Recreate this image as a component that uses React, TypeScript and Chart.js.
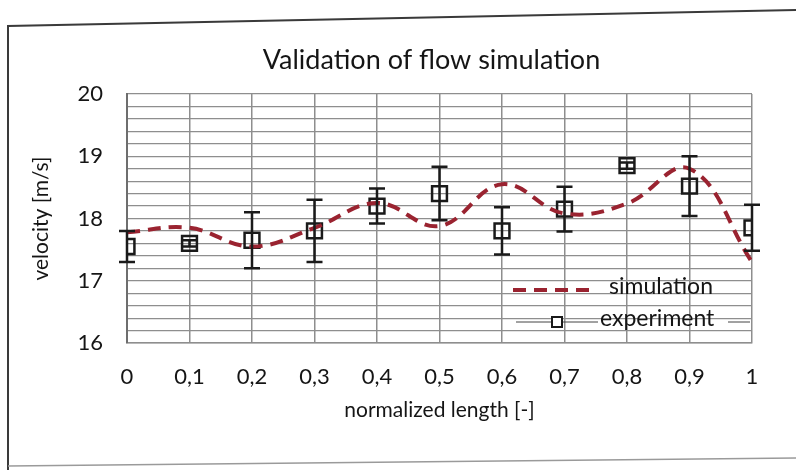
import { useEffect, useRef } from "react";
import { Chart, registerables } from "chart.js";

Chart.register(...registerables);

const chartTitle = "Validation of flow simulation";
const xTitle = "normalized length [-]";
const yTitle = "velocity [m/s]";
const positions = [0, 0.1, 0.2, 0.3, 0.4, 0.5, 0.6, 0.7, 0.8, 0.9, 1];
const simulation = [17.78, 17.85, 17.55, 17.85, 18.25, 17.88, 18.55, 18.08, 18.24, 18.8, 17.3];
const experiment = [17.55, 17.6, 17.65, 17.8, 18.2, 18.4, 17.8, 18.15, 18.85, 18.52, 17.85];
const experimentError = [0.25, 0.05, 0.45, 0.5, 0.28, 0.43, 0.38, 0.36, 0.05, 0.48, 0.37];
const yMin = 16;
const yMax = 20;

const FONT = "Lato, 'Open Sans', sans-serif";
const TEXT = "#151515";
const GRID = "#8e8e8e";
const SIM_COLOR = "#9a2330";

const framePlugin = {
  id: "frame",
  beforeDraw(chart: any) {
    const { ctx, width, height } = chart;
    ctx.save();
    ctx.fillStyle = "#ffffff";
    ctx.fillRect(0, 0, width, height);
    ctx.strokeStyle = "#3a3a3a";
    ctx.lineWidth = 2;
    ctx.beginPath();
    ctx.moveTo(8, height);
    ctx.lineTo(8, 26);
    ctx.lineTo(width, 10);
    ctx.stroke();
    ctx.strokeStyle = "#9a9a9a";
    ctx.lineWidth = 1.5;
    ctx.beginPath();
    ctx.moveTo(8, 466);
    ctx.lineTo(width, 458);
    ctx.stroke();
    ctx.restore();
  },
};

const titlePlugin = {
  id: "customTitle",
  afterDraw(chart: any) {
    const { ctx, chartArea } = chart;
    ctx.save();
    ctx.font = `27px ${FONT}`;
    ctx.fillStyle = TEXT;
    ctx.textAlign = "center";
    ctx.textBaseline = "middle";
    ctx.fillText(chartTitle, (chartArea.left + chartArea.right) / 2 - 8, 60);
    ctx.restore();
  },
};

const errorBarPlugin = {
  id: "errorBars",
  afterDatasetsDraw(chart: any) {
    const { ctx } = chart;
    const xs = chart.scales.x;
    const ys = chart.scales.y;
    ctx.save();
    ctx.strokeStyle = "#1a1a1a";
    ctx.lineWidth = 2.5;
    positions.forEach((p, i) => {
      const px = xs.getPixelForValue(p);
      const top = ys.getPixelForValue(experiment[i] + experimentError[i]);
      const bot = ys.getPixelForValue(experiment[i] - experimentError[i]);
      ctx.beginPath();
      ctx.moveTo(px, top);
      ctx.lineTo(px, bot);
      ctx.moveTo(px - 8, top);
      ctx.lineTo(px + 8, top);
      ctx.moveTo(px - 8, bot);
      ctx.lineTo(px + 8, bot);
      ctx.stroke();
    });
    ctx.restore();
  },
};

const legendPlugin = {
  id: "customLegend",
  afterDraw(chart: any) {
    const { ctx, chartArea } = chart;
    const r = chartArea.right;
    const b = chartArea.bottom;
    const ds = chart.data.datasets;
    ctx.save();
    // simulation
    ctx.strokeStyle = SIM_COLOR;
    ctx.lineWidth = 4;
    ctx.setLineDash([13, 8]);
    ctx.beginPath();
    ctx.moveTo(r - 239, b - 53);
    ctx.lineTo(r - 157, b - 53);
    ctx.stroke();
    ctx.setLineDash([]);
    ctx.font = `23px ${FONT}`;
    ctx.fillStyle = TEXT;
    ctx.textAlign = "left";
    ctx.textBaseline = "middle";
    ctx.fillText(ds[0].label, r - 143, b - 56);
    // experiment
    ctx.strokeStyle = "#444444";
    ctx.lineWidth = 1;
    ctx.beginPath();
    ctx.moveTo(r - 236, b - 21);
    ctx.lineTo(r - 154, b - 21);
    ctx.moveTo(r - 24, b - 21);
    ctx.lineTo(r - 2, b - 21);
    ctx.stroke();
    ctx.fillStyle = "#ffffff";
    ctx.fillRect(r - 200, b - 26, 10, 10);
    ctx.strokeStyle = "#1a1a1a";
    ctx.lineWidth = 2;
    ctx.strokeRect(r - 200, b - 26, 10, 10);
    ctx.fillStyle = TEXT;
    ctx.fillText(ds[1].label, r - 152, b - 24);
    ctx.restore();
  },
};

export default function App() {
  const canvasRef = useRef<HTMLCanvasElement | null>(null);

  useEffect(() => {
    const canvas = canvasRef.current;
    if (!canvas) return;
    const chart = new Chart(canvas, {
      type: "line",
      data: {
        datasets: [
          {
            label: "simulation",
            data: positions.map((p, i) => ({ x: p, y: simulation[i] })),
            borderColor: SIM_COLOR,
            borderWidth: 4,
            borderDash: [13, 8],
            tension: 0.4,
            pointRadius: 0,
            fill: false,
          },
          {
            label: "experiment",
            data: positions.map((p, i) => ({ x: p, y: experiment[i] })),
            showLine: false,
            pointStyle: "rect",
            pointRadius: 10.5,
            pointBorderWidth: 2.5,
            pointBorderColor: "#1a1a1a",
            pointBackgroundColor: "rgba(255,255,255,0)",
          },
        ],
      },
      options: {
        responsive: false,
        animation: false,
        layout: { padding: { left: 0, right: 44, top: 94, bottom: 0 } },
        plugins: {
          legend: { display: false },
          title: { display: false },
          tooltip: { enabled: false },
        },
        scales: {
          x: {
            type: "linear",
            min: 0,
            max: 1,
            border: { display: true, color: GRID, width: 1.5 },
            grid: { color: GRID, lineWidth: 1.5, drawTicks: false },
            ticks: {
              stepSize: 0.1,
              autoSkip: false,
              maxRotation: 0,
              padding: 21,
              color: TEXT,
              font: { family: FONT, size: 22 },
              callback: (v: any) => Number(Number(v).toFixed(1)).toString().replace(".", ","),
            },
            title: {
              display: true,
              text: xTitle,
              color: TEXT,
              font: { family: FONT, size: 21 },
              padding: { top: 0, bottom: 47 },
            },
            afterFit: (scale: any) => {
              scale.height = 127;
            },
          },
          y: {
            min: yMin,
            max: yMax,
            border: { display: true, color: "#6e6e6e", width: 2 },
            grid: { color: GRID, lineWidth: 1.2, drawTicks: false },
            ticks: {
              stepSize: 0.2,
              autoSkip: false,
              padding: 24,
              color: TEXT,
              font: { family: FONT, size: 22 },
              callback: (v: any) => {
                const n = Number(v);
                return Math.abs(n - Math.round(n)) < 1e-6 ? String(Math.round(n)) : "";
              },
            },
            title: {
              display: true,
              text: yTitle,
              color: TEXT,
              font: { family: FONT, size: 21 },
              padding: { top: 29, bottom: 0 },
            },
            afterFit: (scale: any) => {
              scale.width = 127;
            },
          },
        },
      },
      plugins: [framePlugin, errorBarPlugin, legendPlugin, titlePlugin],
    });
    return () => chart.destroy();
  }, []);

  return (
    <div style={{ position: "fixed", left: 0, top: 0, width: 796, height: 470, background: "#fff" }}>
      <canvas ref={canvasRef} width={796} height={470} style={{ display: "block" }} />
    </div>
  );
}
